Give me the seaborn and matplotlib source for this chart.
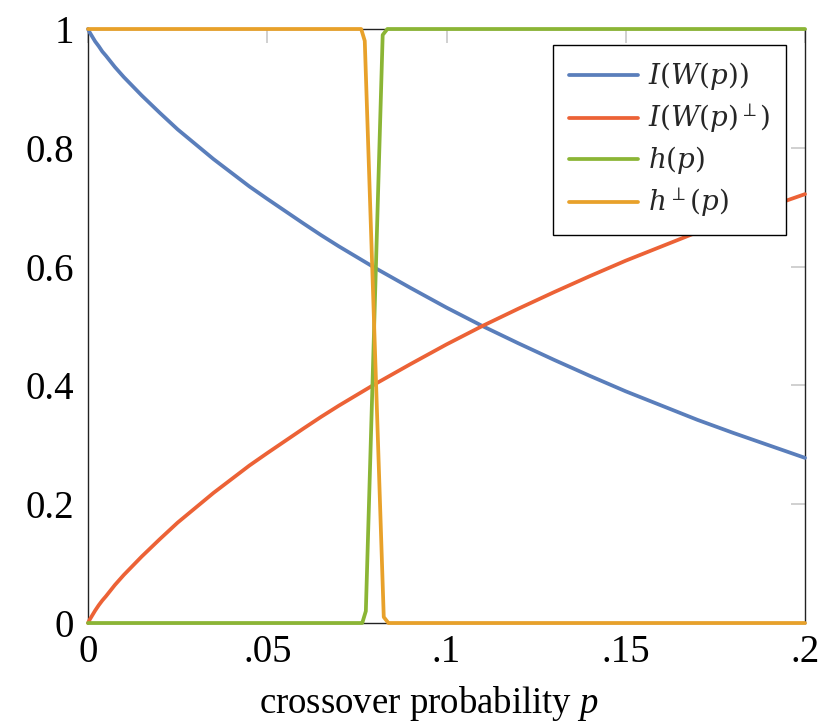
import numpy as np
import pandas as pd
import matplotlib
matplotlib.use("Agg")
import matplotlib.pyplot as plt
import seaborn as sns

# ---- data ----
p_smooth = [0.0, 0.0005, 0.001, 0.002, 0.003, 0.004, 0.005, 0.0075, 0.01,
            0.015, 0.02, 0.025, 0.03, 0.035, 0.04, 0.045, 0.05, 0.06, 0.065,
            0.07, 0.075, 0.08, 0.09, 0.10, 0.11, 0.12, 0.13, 0.14, 0.15,
            0.16, 0.17, 0.18, 0.19, 0.20]
I_W = [1.0, 0.994, 0.989, 0.979, 0.971, 0.962, 0.955, 0.936, 0.919,
       0.888, 0.859, 0.831, 0.806, 0.781, 0.758, 0.735, 0.714, 0.673, 0.653,
       0.634, 0.616, 0.598, 0.564, 0.531, 0.500, 0.471, 0.443, 0.416, 0.390,
       0.366, 0.342, 0.320, 0.299, 0.278]
I_W_perp = [0.0, 0.006, 0.011, 0.021, 0.030, 0.038, 0.045, 0.064, 0.081,
            0.112, 0.141, 0.169, 0.194, 0.219, 0.242, 0.265, 0.286, 0.327,
            0.347, 0.366, 0.384, 0.402, 0.436, 0.469, 0.500, 0.529, 0.557,
            0.584, 0.610, 0.634, 0.658, 0.680, 0.701, 0.722]

p_h = [0.0, 0.0765, 0.0775, 0.0822, 0.0835, 0.20]
h = [0.0, 0.0, 0.02, 0.99, 1.0, 1.0]
p_h_perp = [0.0, 0.0762, 0.0772, 0.0825, 0.0838, 0.20]
h_perp = [1.0, 1.0, 0.98, 0.01, 0.0, 0.0]

labels = [r'$I(W(p))$', r'$I(W(p)^{\perp})$', r'$h(p)$', r'$h^{\perp}(p)$']
colors = ['#5A7EBB', '#EC6236', '#8BB535', '#E8A12A']
x_ticks = [0, 0.05, 0.10, 0.15, 0.20]
x_tick_labels = ['0', '.05', '.1', '.15', '.2']
y_ticks = [0, 0.2, 0.4, 0.6, 0.8, 1.0]
y_tick_labels = ['0', '0.2', '0.4', '0.6', '0.8', '1']

df = pd.concat([
    pd.DataFrame({'p': p_smooth, 'v': I_W, 's': labels[0]}),
    pd.DataFrame({'p': p_smooth, 'v': I_W_perp, 's': labels[1]}),
    pd.DataFrame({'p': p_h, 'v': h, 's': labels[2]}),
    pd.DataFrame({'p': p_h_perp, 'v': h_perp, 's': labels[3]}),
], ignore_index=True)

sns.set_theme(style="white")
plt.rcParams['font.family'] = ['Liberation Serif', 'DejaVu Serif']
plt.rcParams['mathtext.fontset'] = 'custom'
plt.rcParams['mathtext.it'] = 'Liberation Serif:italic'
plt.rcParams['mathtext.rm'] = 'Liberation Serif'

fig = plt.figure(figsize=(8.2, 7.26), dpi=100)
ax = fig.add_axes([88/820, 1-623/726, (805-88)/820, (623-29)/726])

for lab, col in zip(labels, colors):
    sub = df[df['s'] == lab]
    sns.lineplot(data=sub, x='p', y='v', color=col, linewidth=2.7,
                 estimator=None, sort=False, ax=ax, label=lab, clip_on=False,
                 zorder=3)

ax.set_xlim(0, 0.2)
ax.set_ylim(0, 1)
ax.set_xticks(x_ticks)
ax.set_xticklabels(x_tick_labels)
ax.set_yticks(y_ticks)
ax.set_yticklabels(y_tick_labels)
ax.tick_params(direction='in', top=True, right=True, length=10, width=1.1,
               color='#c4c4c4', labelsize=28, labelcolor='black')
ax.tick_params(axis='y', pad=10)
ax.tick_params(axis='x', pad=8)
for sp in ax.spines.values():
    sp.set_color('#222222')
    sp.set_linewidth(1.0)

ax.set_ylabel('')
ax.set_xlabel(r'crossover probability $p$', fontsize=26.5, color='black')
ax.xaxis.set_label_coords(0.475, -0.103)

leg = ax.legend(loc='upper right', bbox_to_anchor=(0.973, 0.973),
                borderaxespad=0, fancybox=False, framealpha=1,
                edgecolor='black', fontsize=20, handlelength=2.5,
                handletextpad=0.35, labelspacing=0.33, borderpad=0.55)
leg.get_frame().set_linewidth(1.0)
for t in leg.get_texts():
    t.set_math_fontfamily('dejavuserif')

fig.savefig('out.png', dpi=100)
